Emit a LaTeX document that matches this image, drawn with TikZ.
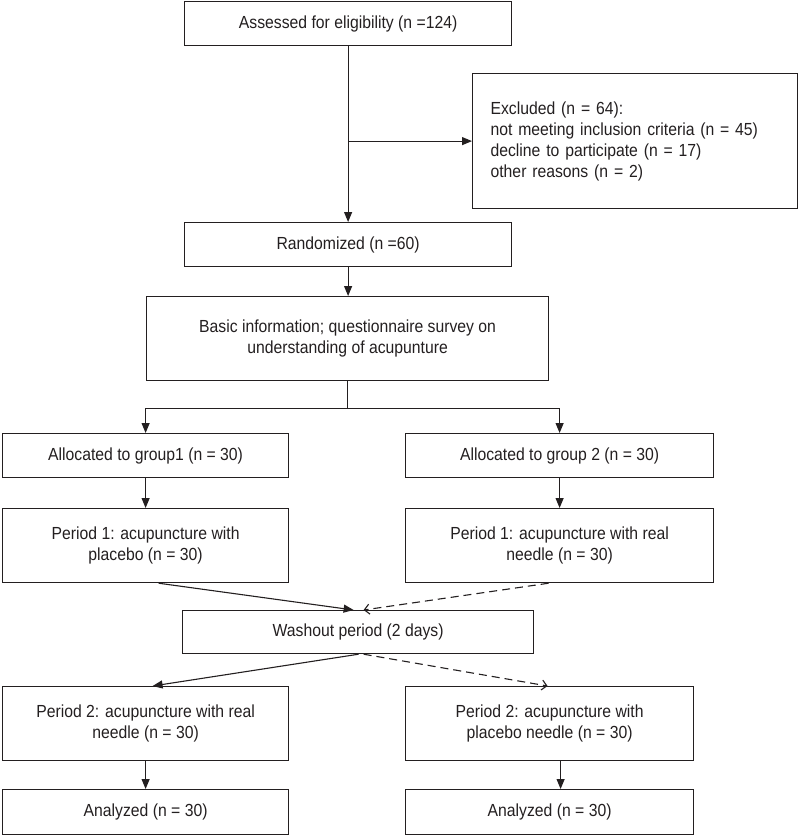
\documentclass[tikz,border=0pt]{standalone}
\usepackage{fontspec}
\setmainfont[FakeStretch=0.9]{Liberation Sans}
\usetikzlibrary{arrows.meta,calc}
\definecolor{ink}{RGB}{35,31,32}
\tikzset{
  box/.style={draw=ink, line width=1.2pt, inner sep=0pt, anchor=north west,
    align=center, text=ink, font=\fontsize{17.5}{21}\selectfont},
  conn/.style={draw=ink, line width=1.1pt, -{Triangle[length=10pt,width=8pt]}},
  dconn/.style={draw=ink, line width=1.1pt, dash pattern=on 8pt off 5pt,
    -{Straight Barb[length=5pt,width=10pt,line width=1.1pt]}},
  plain/.style={draw=ink, line width=1.1pt},
}
\begin{document}
\begin{tikzpicture}[x=1pt,y=-1pt]
\useasboundingbox (0,0) rectangle (800,835);
\node[box, minimum width=327pt, minimum height=44pt] (assess) at (184,1) {Assessed for eligibility (n =124)};
\node[box, align=left, inner xsep=18pt, text width=289pt, minimum height=135pt] (excl) at (472,73)
  {Excluded (n = 64):\\not meeting inclusion criteria (n = 45)\\decline to participate (n = 17)\\other reasons (n = 2)};
\node[box, minimum width=327pt, minimum height=44pt] (rand) at (184,222) {Randomized (n =60)};
\node[box, minimum width=402pt, minimum height=84pt] (basic) at (146,296)
  {Basic information; questionnaire survey on\\understanding of acupunture};
\node[box, minimum width=286pt, minimum height=44pt] (alloc1) at (2,433) {Allocated to group1 (n = 30)};
\node[box, minimum width=308pt, minimum height=44pt] (alloc2) at (405,433) {Allocated to group 2 (n = 30)};
\node[box, minimum width=286pt, minimum height=74pt] (p1a) at (2,508) {Period 1: acupuncture with\\placebo (n = 30)};
\node[box, minimum width=308pt, minimum height=74pt] (p1b) at (405,508) {Period 1: acupuncture with real\\needle (n = 30)};
\node[box, minimum width=351pt, minimum height=43pt] (wash) at (182,610) {Washout period (2 days)};
\node[box, minimum width=286pt, minimum height=74pt] (p2a) at (2,686) {Period 2: acupuncture with real\\needle (n = 30)};
\node[box, minimum width=288pt, minimum height=74pt] (p2b) at (405,686) {Period 2: acupuncture with\\placebo needle (n = 30)};
\node[box, minimum width=286pt, minimum height=45pt] (an1) at (2,789) {Analyzed (n = 30)};
\node[box, minimum width=288pt, minimum height=45pt] (an2) at (405,789) {Analyzed (n = 30)};

\draw[conn] (assess.south) -- (rand.north);
\draw[conn] (assess.south |- excl.west) -- (excl.west);
\draw[conn] (rand.south) -- (rand.south |- basic.north);
\draw[plain] (basic.south) -- ++(0,27) coordinate (split);
\draw[conn] (split) -| (alloc1.north);
\draw[conn] (split) -| (alloc2.north);
\draw[conn] (alloc1.south) -- (p1a.north);
\draw[conn] (alloc2.south) -- (p1b.north);
\draw[conn] ($(p1a.south)+(13,0)$) -- ($(wash.north)+(-4.5,0)$);
\draw[dconn] ($(p1b.south)+(-11,0)$) -- ($(wash.north)+(5.5,0)$);
\draw[conn] ($(wash.south)+(0.5,0)$) -- ($(p2a.north)+(7,0)$);
\draw[dconn] ($(wash.south)+(5.5,0)$) -- ($(p2b.north)+(-2,0)$);
\draw[conn] (p2a.south) -- (an1.north);
\draw[conn] ($(p2b.south)+(11,0)$) -- ($(an2.north)+(11,0)$);
\end{tikzpicture}
\end{document}
